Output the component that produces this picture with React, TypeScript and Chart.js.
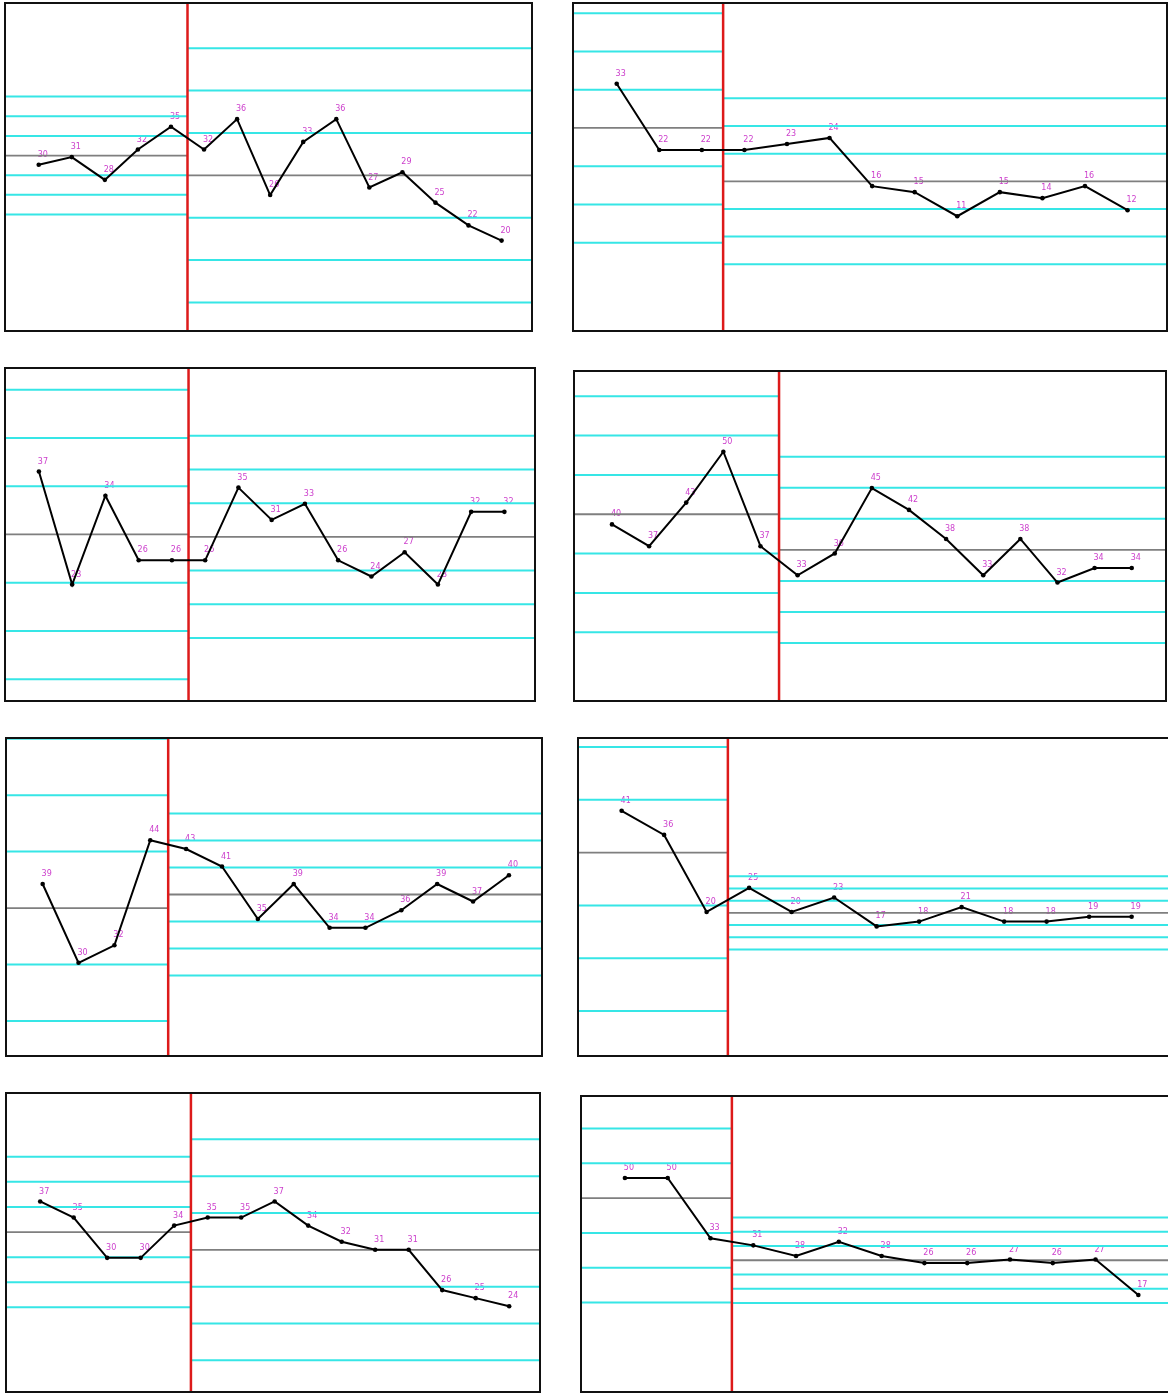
import React, { useEffect, useRef } from 'react';
import { Chart, registerables } from 'chart.js';

Chart.register(...registerables);

// ---- Data: each panel has a baseline phase and a follow-up phase ----
const panel1Before = [30, 31, 28, 32, 35];
const panel1After = [32, 36, 26, 33, 36, 27, 29, 25, 22, 20];

const panel2Before = [33, 22, 22];
const panel2After = [22, 23, 24, 16, 15, 11, 15, 14, 16, 12];

const panel3Before = [37, 23, 34, 26, 26];
const panel3After = [26, 35, 31, 33, 26, 24, 27, 23, 32, 32];

const panel4Before = [40, 37, 43, 50, 37];
const panel4After = [33, 36, 45, 42, 38, 33, 38, 32, 34, 34];

const panel5Before = [39, 30, 32, 44];
const panel5After = [43, 41, 35, 39, 34, 34, 36, 39, 37, 40];

const panel6Before = [41, 36, 20];
const panel6After = [25, 20, 23, 17, 18, 21, 18, 18, 19, 19];

const panel7Before = [37, 35, 30, 30, 34];
const panel7After = [35, 35, 37, 34, 32, 31, 31, 26, 25, 24];

const panel8Before = [50, 50, 33];
const panel8After = [31, 28, 32, 28, 26, 26, 27, 26, 27, 17];

// value ranges of the (hidden) y axes
const yRanges: [number, number][] = [
  [7.96, 51.43],
  [-8.22, 46.57],
  [8.46, 49.93],
  [15.56, 61.25],
  [19.24, 55.79],
  [-10.12, 56.33],
  [13.23, 50.58],
  [-10.63, 73.4],
];

// sigma multiples for the control lines
const sigmaLevels = [-3, -2, -1, 0, 1, 2, 3];

// ---- Layout (page pixels) ----
const boxes = [
  { left: 4, top: 2, width: 529, height: 330 },
  { left: 572, top: 2, width: 596, height: 330 },
  { left: 4, top: 367, width: 532, height: 335 },
  { left: 573, top: 370, width: 594, height: 332 },
  { left: 5, top: 737, width: 538, height: 320 },
  { left: 577, top: 737, width: 595, height: 320 },
  { left: 5, top: 1092, width: 536, height: 301 },
  { left: 580, top: 1095, width: 599, height: 298 },
];

const panels = [
  [panel1Before, panel1After],
  [panel2Before, panel2After],
  [panel3Before, panel3After],
  [panel4Before, panel4After],
  [panel5Before, panel5After],
  [panel6Before, panel6After],
  [panel7Before, panel7After],
  [panel8Before, panel8After],
];

const CYAN = '#36e6e6';
const GRAY = '#7f7f7f';
const RED = '#dd1a1a';
const LABEL = '#cc3fcc';

function mean(a: number[]) {
  return a.reduce((s, v) => s + v, 0) / a.length;
}
function sd(a: number[]) {
  const m = mean(a);
  return Math.sqrt(a.reduce((s, v) => s + (v - m) * (v - m), 0) / (a.length - 1));
}

type PanelProps = {
  before: number[];
  after: number[];
  yMin: number;
  yMax: number;
  box: { left: number; top: number; width: number; height: number };
};

function Panel({ before, after, yMin, yMax, box }: PanelProps) {
  const ref = useRef<HTMLCanvasElement | null>(null);

  useEffect(() => {
    if (!ref.current) return;
    const values = [...before, ...after];
    const n = values.length;
    const split = before.length + 0.5;

    const datasets: any[] = [];
    datasets.push({
      data: values.map((v, i) => ({ x: i + 1, y: v })),
      borderColor: '#000',
      borderWidth: 2,
      pointRadius: 2.3,
      pointBackgroundColor: '#000',
      pointBorderWidth: 0,
      tension: 0,
      order: 0,
    });
    datasets.push({
      data: [
        { x: split, y: yMin },
        { x: split, y: yMax },
      ],
      borderColor: RED,
      borderWidth: 2.5,
      pointRadius: 0,
      order: 1,
    });
    const phases = [
      { vals: before, x0: -1, x1: split },
      { vals: after, x0: split, x1: n + 2 },
    ];
    let ord = 2;
    phases.forEach((ph) => {
      const m = mean(ph.vals);
      const s = sd(ph.vals);
      sigmaLevels.forEach((k) => {
        const y = m + k * s;
        datasets.push({
          data: [
            { x: ph.x0, y },
            { x: ph.x1, y },
          ],
          borderColor: k === 0 ? GRAY : CYAN,
          borderWidth: k === 0 ? 1.8 : 2,
          pointRadius: 0,
          clip: 0,
          order: ord++,
        });
      });
    });

    const labelPlugin = {
      id: 'pointLabels',
      beforeDatasetsDraw(chart: any) {
        const meta = chart.getDatasetMeta(0);
        const ctx = chart.ctx;
        ctx.save();
        ctx.font = '8px "DejaVu Sans", Verdana, sans-serif';
        ctx.fillStyle = LABEL;
        ctx.textAlign = 'center';
        ctx.textBaseline = 'middle';
        meta.data.forEach((pt: any, i: number) => {
          ctx.fillText(String(values[i]), pt.x + 4, pt.y - 10);
        });
        ctx.restore();
      },
    };
    const framePlugin = {
      id: 'frame',
      afterDraw(chart: any) {
        const ctx = chart.ctx;
        ctx.save();
        ctx.strokeStyle = '#111';
        ctx.lineWidth = 2;
        ctx.strokeRect(1, 1, chart.width - 2, chart.height - 2);
        ctx.restore();
      },
    };

    const chart = new Chart(ref.current, {
      type: 'line',
      data: { datasets },
      options: {
        animation: false,
        responsive: false,
        maintainAspectRatio: false,
        layout: { padding: 0, autoPadding: false },
        plugins: { legend: { display: false }, tooltip: { enabled: false } },
        scales: {
          x: { type: 'linear', min: -0.05, max: n + 0.95, display: false },
          y: { type: 'linear', min: yMin, max: yMax, display: false },
        },
      },
      plugins: [labelPlugin, framePlugin],
    } as any);
    return () => chart.destroy();
  }, [before, after, yMin, yMax, box]);

  return (
    <canvas
      ref={ref}
      width={box.width}
      height={box.height}
      style={{
        position: 'absolute',
        left: box.left,
        top: box.top,
        width: box.width,
        height: box.height,
      }}
    />
  );
}

export default function App() {
  return (
    <div
      style={{
        position: 'absolute',
        left: 0,
        top: 0,
        width: 1168,
        height: 1395,
        overflow: 'hidden',
        background: '#fff',
      }}
    >
      {panels.map(([b, a], i) => (
        <Panel key={i} before={b} after={a} yMin={yRanges[i][0]} yMax={yRanges[i][1]} box={boxes[i]} />
      ))}
    </div>
  );
}
